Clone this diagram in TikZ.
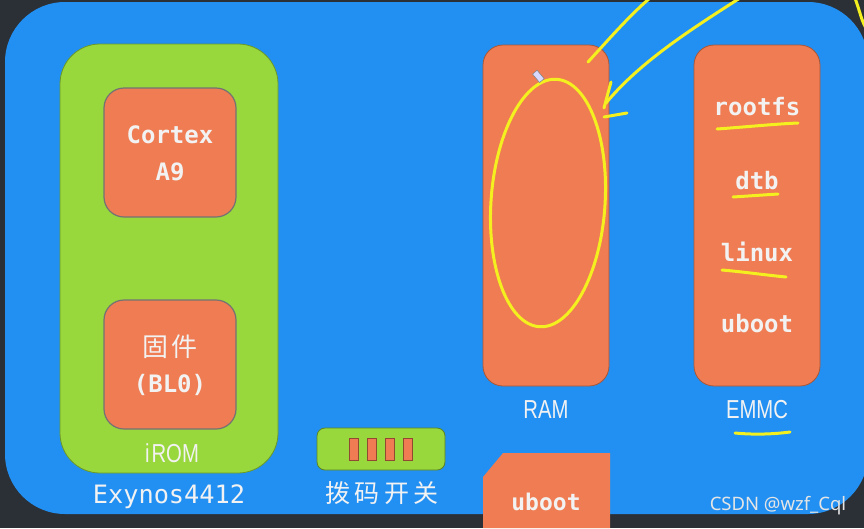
\documentclass[tikz,border=0pt]{standalone}
\usepackage{fontspec}
\setmainfont{DejaVu Sans Mono}
\newfontfamily\cjk{Noto Sans CJK SC}
\newfontfamily\narrowfont[FakeStretch=0.78]{Liberation Sans}
\newfontfamily\wmfont{Noto Sans}
\definecolor{bgdark}{HTML}{2B2F36}
\definecolor{bluebg}{HTML}{2290F2}
\definecolor{chipgreen}{HTML}{98D83C}
\definecolor{boxorange}{HTML}{EF7C52}
\definecolor{txtwhite}{HTML}{F2F2F2}
\definecolor{anno}{HTML}{F4F020}
\begin{document}
\begin{tikzpicture}[x=1pt,y=-1pt,
  orangebox/.style={fill=boxorange,draw=boxorange!70!black,line width=0.8pt,rounded corners=20pt},
  innerbox/.style={fill=boxorange,draw=black!55,line width=1.2pt,rounded corners=20pt},
  lbl/.style={text=txtwhite,font=\bfseries\fontsize{24}{28}\selectfont,inner sep=0pt},
  narrowlbl/.style={text=txtwhite,font=\narrowfont\fontsize{26}{30}\selectfont,inner sep=0pt},
  annoline/.style={draw=anno,line width=3pt,line cap=round}]
\useasboundingbox (0,0) rectangle (864,528);
\fill[bgdark] (0,0) rectangle (864,528);
% main blue panel
\fill[bluebg,rounded corners=60pt] (5,2) rectangle (868,514);
% Exynos chip
\fill[chipgreen,draw=chipgreen!70!black,line width=0.8pt,rounded corners=40pt] (60,44) rectangle (278,473);
\path[innerbox] (104,88) rectangle (236,217);
\path[innerbox] (104,300) rectangle (236,429);
\node[lbl,align=center] (cortex) at (170,153) {Cortex\\[9pt]A9};
\node[lbl,align=center] (fw) at (170,365) {{\mdseries\cjk\fontsize{26}{28}\selectfont 固\kern4pt 件}\\[8pt](BL0)};
\node[narrowlbl] (irom) at (172,453) {i\kern2pt ROM};
\node[lbl,font=\fontsize{25.3}{28}\selectfont] (exy) at (169,497) {Exynos4412};
% DIP switch
\path[fill=chipgreen,draw=chipgreen!60!black,line width=0.8pt,rounded corners=8pt] (317,428) rectangle (445,470);
\foreach \xx in {349,367,385,403}{
  \path[fill=boxorange,draw=boxorange!60!black,line width=0.6pt] (\xx,438) rectangle (\xx+9,460);
}
\node[text=txtwhite,inner sep=0pt,font=\cjk\fontsize{25}{28}\selectfont\addfontfeature{LetterSpace=18}] (dip) at (382,493) {拨码开关};
% RAM
\path[orangebox] (483,45) rectangle (609,386);
\node[narrowlbl] (ram) at (546,410) {RAM};
% EMMC
\path[orangebox] (694,45) rectangle (820,386);
\node[lbl] (rootfs) at (757,107) {rootfs};
\node[lbl] (dtb) at (757,181) {dtb};
\node[lbl] (linux) at (757,252) {linux};
\node[lbl] (ubootE) at (757,324) {uboot};
\node[narrowlbl] (emmc) at (757,410) {EMMC};
% uboot box at bottom
\fill[boxorange] (483,477) -- (503,453) -- (610,453) -- (610,528) -- (483,528) -- cycle;
\node[lbl,font=\bfseries\fontsize{23}{28}\selectfont] (ubootR) at (546,502) {uboot};
% annotations
\draw[annoline,rotate around={-4:(548,203)}] (548,203) ellipse [x radius=57pt,y radius=124pt];
\draw[annoline] (588,62) .. controls (610,38) and (630,15) .. (650,-2);
\draw[annoline] (606,103) .. controls (640,62) and (690,30) .. (740,-2);
\draw[annoline] (611,82) -- (604,108);
\draw[annoline] (604,117) -- (627,113);
\draw[annoline] (855,-2) .. controls (860,12) and (862,22) .. (866,28);
\draw[annoline] (717,129) .. controls (745,127) and (775,124) .. (798,123);
\draw[annoline] (733,197) -- (778,194);
\draw[annoline] (722,270) .. controls (745,272) and (765,275) .. (786,277);
\draw[annoline] (735,433) .. controls (755,435) and (775,434) .. (790,432);
% pen cursor
\path[fill=white!85!blue,draw=gray,line width=0.5pt,rotate around={-50:(538,76)}] (533,73) rectangle (544,79);
% watermark
\node[text=white!80!gray,inner sep=0pt,font=\wmfont\fontsize{18.5}{20}\selectfont] (wm) at (778,506) {CSDN @wzf\_Cql};
\end{tikzpicture}
\end{document}
